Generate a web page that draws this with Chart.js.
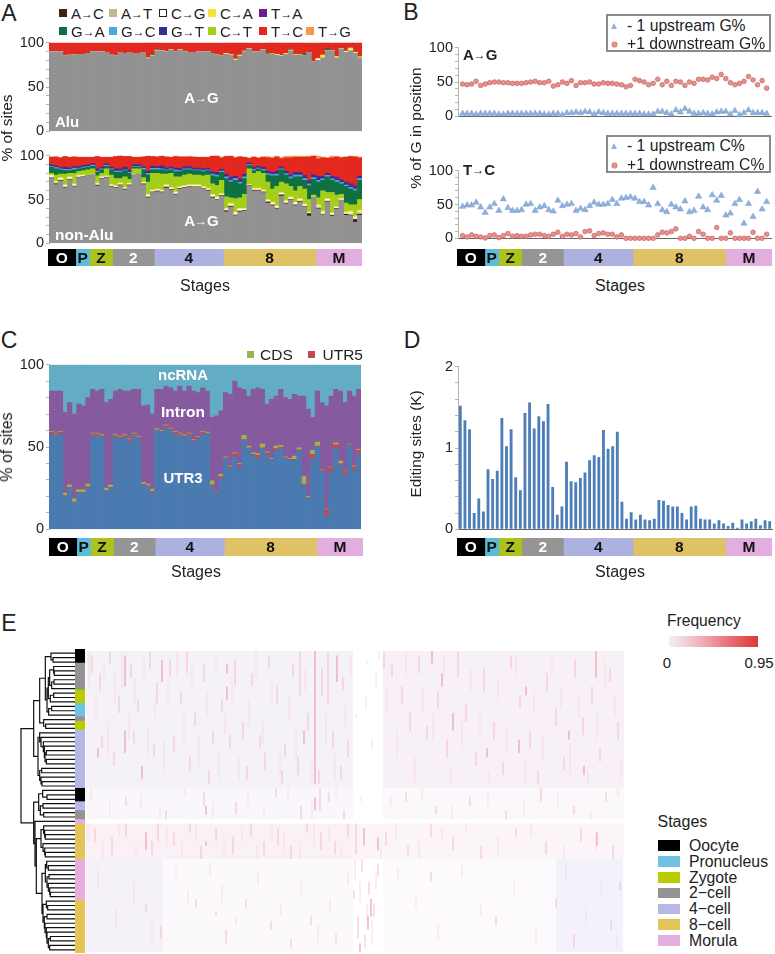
<!DOCTYPE html>
<html>
<head>
<meta charset="utf-8">
<script src="https://cdn.jsdelivr.net/npm/chart.js@4/dist/chart.umd.min.js"></script>
<style>
  html, body { margin: 0; padding: 0; background: #fff; }
  body { position: relative; width: 775px; height: 954px; overflow: hidden; font-family: "Liberation Sans", sans-serif; color: #222; }
  canvas { position: absolute; }
  .t { position: absolute; white-space: nowrap; transform: translate(-50%, -50%); }
  .l { position: absolute; white-space: nowrap; transform: translateY(-50%); }
  .a { font-size: 80%; font-weight: bold; vertical-align: 6%; }
  .s { position: absolute; }
</style>
</head>
<body>
<script>
// stages
const stageLetters = ['O', 'P', 'Z', '2', '4', '8', 'M']
const stageCounts = [6, 3, 5, 9, 15, 20, 10]
const stageColors = ['#000000', '#5bbcd8', '#adc21d', '#959595', '#adb1e0', '#dfc166', '#e2aee0']
const stageInk = ['#fff', '#111', '#111', '#fff', '#111', '#111', '#111']
const stageNames = ['Oocyte', 'Pronucleus', 'Zygote', '2\u2212cell', '4\u2212cell', '8\u2212cell', 'Morula']
const swatchColors = ['#000000', '#6fc3e0', '#b9cc00', '#939393', '#b8b8e6', '#e3c456', '#e6aee0']
const samples = stageCounts.flatMap((n, s) => Array.from({ length: n }, (_, i) => stageLetters[s] + (i + 1)))

// panel A, Alu
const aluAG = [90,90,90,85,87,86,87,87,88,90,90,90,89,87,85,89,88,89,88,88,89,82,85,91,91,90,92,90,92,90,89,89,90,90,90,88,86,85,87,86,80,85,90,93,90,90,92,87,87,86,85,87,91,86,86,85,89,78,80,83,91,91,83,93,89,91,88,83]
const aluTC = [10,10,10,15,13,14,13,13,12,10,10,10,11,13,15,11,12,11,12,12,11,18,15,9,9,10,8,10,8,10,11,11,10,10,10,12,14,15,13,14,20,15,10,7,10,10,8,13,13,14,15,13,9,14,14,15,11,22,20,17,9,9,17,7,11,9,12,17]
const aluCA = { 21: 1, 23: 0.5, 38: 1, 39: 0.5, 40: 1.5, 41: 1, 42: 0.5, 48: 0.5, 50: 0.5, 53: 0.5, 58: 1, 59: 3, 62: 1.5, 65: 2, 66: 1, 67: 1 }
const aluCT = { 22: 1, 23: 0.5, 47: 0.5, 49: 0.5, 52: 1, 54: 0.5, 60: 0.5, 64: 0.5, 66: 0.5 }
const aluGA = { 22: 0.5, 47: 0.5, 55: 2.5, 60: 1.5 }
const aluCG = { 49: 0.5, 51: 0.5, 58: 1.5, 64: 1, 65: 1 }

// panel A, non-Alu
const nonAG = [74,67,71,63,72,64,75,76,77,78,65,73,75,64,63,66,61,66,78,79,67,52,58,59,58,63,61,55,62,63,64,64,64,62,60,52,49,54,36,41,31,36,37,65,60,60,58,46,43,39,54,45,49,43,47,41,31,52,39,32,47,31,39,49,32,31,24,32]
const nonAC = [.5,1,.5,.5,.5,.5,.3,0,0,0,1,.5,.3,.5,.5,.5,.5,.5,0,0,.5,.5,.5,.5,.5,1,.5,.5,.5,.5,.5,.3,.3,.3,.5,.5,.5,.5,1,1,.5,.5,.5,.5,.5,.5,.5,1,.5,.5,1,.5,.5,.5,.5,.5,3,0,.5,.5,.5,1,.5,0,1,.5,3,1]
const nonAT = [1,1,1,1,1,1,.7,.5,.3,.3,1,1,.5,1,.5,.5,1,.5,.3,.3,1,1,.5,.5,.5,1,.5,1,.5,.5,.5,.7,.7,.7,.5,1,1,.5,1,1,1.5,1,.5,.5,.5,.5,.5,1,1,1,1,1,1,1,1,1,.5,0,2,1,1,.5,.5,.5,.5,2,1,2]
const nonCG = [1.5,1,1.5,1.5,1.5,1.5,1,.5,.2,.2,1,1,.7,1,1,1,.5,1,.2,.2,.5,1.5,1,1,1,1,1,1.5,1,1,1,1,1,1,1,1.5,1.5,1,1,1.5,1.5,1.5,1,.5,1,1,1,1,1.5,1.5,1,1.5,1.5,1.5,1.5,1.5,.5,.5,1,1.5,1.5,1.5,1,1,1,1.5,1.5,1]
const nonCA = [1,1,1,1,1,1,1,1,.5,.5,1,.5,.5,.5,1,1,1,1,.5,.5,1,1,1,1,1,1,1,1,1,1,1,1,1,1,1,1,1,1,1,1.5,1.5,1,1,.5,1,1,1,1,1,1,1,1,1,1,1,1,1,.5,1.5,2,1,1,1,.5,1.5,2,1.5,2]
const nonCT = [2,7,4,12,4,12,4,5,6,6,8,4,8,11,8,5,12,4,6,5,5,14,19,18,18,12,16,17,11,12,12,11,11,12,15,12,13,15,13,6,15,12,16,18,17,19,19,20,15,22,12,19,12,13,14,17,14,2,8,23,7,23,13,5,10,7,13,12]
const nonGA = [7,7,5,4,3,4,3,3,3,3,4,4,3,6,7,7,7,7,2,2,9,8,4,4,5,4,4,6,6,6,5,5,5,5,5,9,10,9,21,18,21,16,18,4,3,3,3,8,15,12,14,10,9,16,11,10,16,18,18,12,18,14,15,12,19,18,16,22]
const nonGC = [1,1.5,1,1.5,1.5,1.5,1,1,1,1,1.5,1,1,1,1.5,1.5,1,1,1,1,1.5,2,1.5,1.5,1,1,1,1.5,1,1,1,1,1,1,1,2,2,1.5,2,2,2,2,2,1,1.5,1,1.5,1.5,1.5,2,1,1.5,2,2,2,2,2,2,2,1.5,1.5,1.5,2,1.5,1.5,2,2,2]
const nonGT = [1,1,1,1.5,1,1,1,1,1,1,1.5,1,1,1,1.5,1.5,2,1.5,1,1,1,1,1.5,1,2,1.5,1,1.5,1.5,1.5,1.5,1,1,1,1,1.5,2,1,2,2,1.5,2,2,1,1.5,1,1.5,2,1.5,2,1.5,2,1.5,2,2,2,2,2,3,2,1.5,2,2,1.5,2,2,2,1.5]
const nonTA = [1,1,.5,1,.5,1,1,1,1,1,1,1,1,1,1,1,1,1.5,1,1,1,1.5,1,1,1.5,1,1,1,1,1,1,1,1,1,1,1,1,1,1,1.5,1,1.5,1,1,1,1,1,1,1,1.5,1,1,1,1,1,1.5,1.5,1.5,1.5,1,1,1,1.5,1.5,1.5,2,1.5,1]
const nonTC = [8,10,11,12,12,11,10,9,8,7,14,11,7,11,14,15,12,15,8,8,11,17,11,11,11,12,11,13,13,11,11,12,12,13,12,18,19,13,20,24,21,25,19,5,11,9,11,15,16,16,9,15,19,17,17,21,27,22,20,21,17,21,23,25,28,31,33,21]
const nonTG = [1,.5,.5,.5,.5,.5,.5,.5,.5,.5,.5,.5,.5,.5,.5,.5,.5,.5,.5,.5,.5,.5,.5,.5,.5,.5,.5,1,.5,.5,1,1,.5,.5,.5,.5,.5,1,1,1,1,1,.5,.5,1,1,1,1.5,1.5,1.5,1.5,2,2,2,2,1,1.5,6,5,1,1,3,1,1,1,1,1,1]

// panel B
const upG = [4,4,4,3,4,4,4,4,3,3,4,4,4,4,4,4,4,4,3,3,4,4,2,5,5,6,5,7,6,3,6,5,4,4,4,4,4,4,4,4,3,3,3,7,7,5,3,9,6,11,7,4,4,5,4,3,6,7,7,3,8,2,5,9,5,5,5,4]
const downG = [47,46,47,51,45,47,49,50,50,49,49,48,48,48,49,50,51,49,49,51,44,46,50,48,52,45,49,49,50,47,47,49,48,48,47,46,43,45,54,52,50,46,48,54,46,51,45,51,50,45,50,48,54,54,53,57,55,61,55,49,46,48,51,58,53,46,52,41]
const upC = [47,49,49,53,46,38,46,51,41,58,45,41,41,42,50,51,41,46,48,42,40,56,48,50,51,41,44,42,48,53,50,50,51,57,51,59,60,61,59,54,54,49,75,51,42,39,50,46,43,55,39,41,62,46,42,64,56,63,34,37,51,57,22,51,32,69,43,54]
const downC = [4,2,5,3,2,0.5,4,5,1,4,7,3,4,3,3,5,6,6,4,3,6,9,3,6,5,7,2,10,11,4,7,8,6,6,2,5,0,0,0,0,0,0,0,5,9,8,10,14,0,0,3,0,10,6,0,0,16,0,0,8,0,0,0,0,9,0,0,6]

// panel C
const utr3 = [58,57,58,20,25,16,22,22,25,57,57,56,23,25,56,55,56,53,57,55,27,26,22,60,59,62,60,58,57,56,57,53,55,58,58,26,22,31,43,37,44,38,54,49,45,43,49,45,42,48,49,43,42,42,48,27,19,43,50,35,8,35,49,39,33,51,36,46]
const utr5 = [1,1,1,.5,.5,.5,.5,.5,1,1,1,1,.5,.5,1,1,1,1.5,1,1,.5,.5,1,.5,.5,1,1,1,1,1,1,1,1,1,.5,1,.3,1,.5,1,2,1.5,.5,.5,.5,2,.5,1.5,.5,1,1,.5,.5,.5,.5,.5,.3,2.5,.5,1,4,2.5,2.5,1,2.5,.5,2,2]
const cds = [.5,.5,.5,1.5,1.5,2,1.5,1.5,1.5,.5,.5,.5,1.5,1.5,.5,.5,.5,.5,.5,.5,1,1,1.5,.5,.5,.5,.5,.5,.5,.5,.5,.5,.5,.5,.5,2.5,.3,1.5,.5,.5,.5,.5,2.5,1,1,1,2.5,.5,.5,1.5,1,.5,.5,2,1,4.5,.7,2.5,2.5,.3,.3,.3,1,1.5,.3,.3,.5,.5]
const intron = [24.5,25.5,24.5,49,50,51.5,52,51,52.5,26.5,25.5,27.5,52,52,26.5,28.5,26.5,29,26.5,28.5,46.5,48,45.5,24,25,23.5,24.5,24.5,28.5,26.5,28.5,29.5,26.5,26.5,25,38.5,46.4,38.5,39,43.5,43.5,46,28,30.5,38.5,40,33,29,36,30.5,34,36,36,37.5,31.5,49,53,20,31,40.7,62.7,43.2,32.5,42.5,41.2,32.2,42.5,36.5]
const ncrna = [16,16,16,29,23,30,24,25,20,15,16,15,23,21,16,15,16,16,15,15,25,24.5,30,15,15,13,14,16,13,16,13,16,17,14,16,32,31,28,17,18,10,14,15,19,15,14,15,24,21,19,15,20,21,18,19,19,27,32,16,23,25,19,15,16,23,16,19,15]

// panel D
const editingSites = [1.52,1.34,1.23,.2,.38,.22,.74,.62,.72,1.37,1.02,1.23,.64,.48,1.43,1.56,1.24,1.39,1.33,1.54,.52,.18,.28,.83,.59,.58,.63,.7,.85,.91,.89,1.22,.99,1.02,1.2,.34,.13,.21,.12,.18,.12,.11,.13,.36,.35,.3,.28,.28,.2,.12,.28,.29,.13,.12,.12,.07,.11,.07,.04,.08,.02,.12,.07,.1,.13,.05,.11,.1]

// panel E, rows and sample tree (node = [height, left, right], 0 = leaf)
const rowRunLengths = [3, 6, 3, 3, 1, 2, 13, 3, 2, 2, 1, 8, 9, 12]
const rowRunStages = [0, 3, 2, 1, 3, 2, 4, 0, 4, 3, 6, 5, 6, 5]
const dendroTree = [162,
  [124,
    [106,
      [89, [72, 0, [66, 0, 0]],
        [84,
          [80, [76, [64, 0, [62, 0, 0]], [70, [63, 0, 0], 0]], [74, [64, 0, 0], 0]],
          [79, [70, 0, 0], 0]]],
      [94, 0, [88, 0, 0]]],
    [111,
      [106, 0, [102, 0, [95, 0, [92, 0, [90, [86, 0, 0], [86, 0, 0]]]]]],
      [106, [100, 0, 0], [102, 0, [99, 0, 0]]]]],
  [124,
    [109, [97, 0, [84, 0, 0]], [104, [96, 0, 0], [94, 0, 0]]],
    [120, 0,
      [116,
        [102, [94, 0, [91, 0, [89, 0, 0]]], [96, 0, [91, 0, [89, 0, 0]]]],
        [99,
          [89, [85, 0, [80, 0, 0]], [84, [78, 0, 0], [80, 0, [76, 0, [74, 0, 0]]]]],
          [96, [86, 0, [82, 0, 0]], [92, [84, 0, 0], [90, 0, [86, 0, [84, 0, [80, [74, 0, 0], [76, 0, 0]]]]]]]]]]]]

// panel E, frequency cells: [first column, last column, first row, last row, colour]
const heatBlocks = [
  [0, 267, 0, 31, '#f4f1f8'], [0, 267, 31, 38, '#f9f7fb'], [0, 267, 39, 47, '#faf1f6'],
  [0, 77, 47, 68, '#f4f1f9'], [77, 267, 47, 68, '#fbf9fc'],
  [297, 538, 0, 31, '#f7f0f6'], [297, 538, 31, 38, '#fbf8fb'], [267, 538, 39, 47, '#fbf4f8'],
  [470, 537, 47, 68, '#f3f1f9'], [297, 470, 47, 68, '#fcfafc']
]
// streaks: [column, first row, last row]
const heatLight = [
  [3,0,8],[10,10,16],[18,2,7],[22,16,24],[29,5,12],[36,0,9],[43,14,20],[49,6,12],[58,1,7],[62,17,24],[69,11,15],[78,20,27],[82,6,13],[91,0,6],[98,14,22],[106,3,9],[113,19,26],[121,9,15],[130,1,5],[133,23,29],[139,14,19],[146,6,12],[153,24,29],[163,11,17],[170,0,6],[177,16,21],[186,6,12],[194,22,28],[203,10,16],[210,18,24],[219,4,9],[226,25,30],[240,14,21],[249,23,29],[259,12,17],[265,1,6],
  [5,31,34],[24,34,37],[55,32,36],[74,35,38],[99,31,33],[127,34,38],[162,32,35],[178,35,38],[202,31,34],[226,34,38],[250,31,33],
  [2,39,43],[17,43,47],[33,39,42],[50,44,47],[81,40,44],[96,43,47],[110,39,43],[138,42,47],[156,40,43],[171,44,47],[186,39,43],[198,41,46],[214,43,47],[228,39,44],[243,40,43],[255,44,47],
  [12,49,54],[30,58,63],[48,52,57],[66,61,66],[90,49,51],[102,54,57],[124,48,51],[136,53,57],[150,60,62],[172,50,53],[195,57,60],[215,52,55],[232,62,66],[244,56,59],[262,50,53],
  [270,14,15],[281,2,3],[290,5,8],[280,10,13],[293,0,2],[286,20,22],[275,33,34],
  [301,8,14],[311,18,24],[320,0,6],[329,24,30],[337,8,14],[347,14,20],[358,1,6],[365,26,30],[376,16,22],[385,4,9],[394,13,19],[403,27,30],[412,6,11],[421,17,23],[430,1,6],[439,24,30],[448,9,14],[457,19,25],[466,1,5],[475,8,13],[484,21,28],[493,10,15],[502,26,30],[511,14,20],[519,2,8],[529,10,15],[535,24,29],
  [305,33,35],[336,31,34],[366,35,38],[402,32,35],[438,34,37],[472,32,35],[505,36,38],[532,31,33],
  [310,39,43],[333,43,47],[356,40,43],[380,39,41],[412,42,46],[445,39,42],[478,44,47],[510,41,45],
  [312,49,52],[330,55,58],[352,62,65],[376,48,51],[395,57,60],[428,52,55],[450,63,66],[480,48,52],[500,58,62],[515,52,55],[531,64,67],
  [269,47,52],[274,52,57],[281,57,61],[286,61,66],[290,50,54],[295,44,47]
]
const heatMid = [
  [6,1,5],[14,5,9],[24,0,3],[33,10,14],[45,3,6],[52,11,14],[64,0,4],[71,7,12],[84,2,6],[95,9,12],[101,0,5],[109,14,17],[118,3,7],[127,18,21],[136,11,14],[149,2,8],[157,16,20],[166,5,8],[174,19,22],[183,1,4],[191,8,12],[199,21,24],[207,3,6],[214,0,10],[222,14,18],[236,4,10],[242,0,12],[247,18,22],[257,6,9],[262,20,24],[16,19,22],[28,23,26],[48,18,21],[68,21,24],[88,19,23],[104,24,27],[123,27,30],[144,19,22],[161,26,29],[179,23,27],[196,27,30],[212,24,28],[233,27,30],[255,26,29],
  [40,33,35],[80,36,38],[118,32,35],[150,34,37],[190,31,33],[215,35,38],[234,31,36],[243,32,34],[258,36,38],
  [9,40,43],[26,42,46],[40,39,42],[66,43,46],[72,39,43],[88,41,44],[104,39,41],[115,44,47],[130,40,43],[147,42,46],[165,39,42],[178,43,46],[192,40,44],[205,44,47],[221,39,41],[235,41,45],[249,43,46],[262,39,42],
  [60,57,59],[75,62,65],[110,56,58],[130,59,60],[140,63,66],[160,56,58],[185,61,63],[205,65,67],[225,60,62],[250,64,66],
  [298,0,4],[306,3,6],[316,8,12],[324,14,18],[333,1,5],[341,17,20],[352,9,13],[361,20,24],[372,0,6],[380,12,16],[390,23,26],[398,4,9],[408,16,20],[417,25,28],[425,1,4],[434,10,13],[444,18,22],[452,27,30],[461,5,9],[470,13,17],[478,24,27],[489,2,6],[497,15,19],[506,8,12],[514,22,25],[524,4,7],[532,16,20],
  [320,32,34],[350,35,37],[384,33,35],[420,36,38],[455,31,34],[488,35,37],[520,32,34],
  [300,41,44],[322,44,46],[345,39,42],[367,42,45],[395,44,47],[430,40,42],[460,43,46],[495,40,43],[527,44,47],
  [345,50,52],[410,60,62],[470,56,58],[488,64,67],[525,61,63],[534,52,54],
  [270,39,46],[276,47,50],[283,52,55],[288,57,60],[272,60,65],[279,64,67],[292,48,51],[268,54,56]
]
const heatStrong = [
  [229,0,26],[251,1,7],[141,3,5],[141,8,11],[39,1,8],[39,18,23],[76,2,7],[218,18,21],[12,22,24],[56,26,29],
  [278,40,44],[285,56,60],[282,60,63],[274,66,68],[292,42,45],[346,0,3],[356,5,8],[367,14,18],[440,8,10],[510,0,6],
  [483,18,20],[401,22,24],[433,20,23],[498,26,28],[120,43,44],[60,41,45],[229,26,30],[229,33,36],[120,35,37],[511,41,44]
]
const freqStops = ['#f2f0f8', '#f0b6c0', '#e8707a', '#dc3a34']

const stack100 = (max, step) => ({
  min: 0,
  max,
  stacked: true,
  afterFit: (s) => { s.width = 48 },
  border: { color: '#b5b5b5' },
  grid: { drawOnChartArea: false, drawTicks: true, tickLength: 3, color: '#b5b5b5' },
  ticks: {
    stepSize: step,
    autoSkip: false,
    maxRotation: 0,
    padding: 2,
    color: '#222',
    font: { size: 14.5 },
    callback: (v) => (Number.isInteger(+(+v / (max === 100 ? 50 : 1)).toFixed(3)) ? v : '')
  }
})

const baseOptions = {
  responsive: false,
  animation: false,
  devicePixelRatio: 1,
  events: [],
  plugins: { legend: { display: false }, tooltip: { enabled: false } }
}

const addCanvas = (left, top, w, h) => {
  const c = document.createElement('canvas')
  c.width = w
  c.height = h
  c.style.left = left + 'px'
  c.style.top = top + 'px'
  document.body.appendChild(c)
  return c
}

// canvas sized so that the plot area lands on left/top/width/height
const plotChart = (left, top, width, height, config) => {
  const c = addCanvas(left - 48, top - 10, width + 52, height + 20)
  config.options.layout = { padding: { top: 10, bottom: 10, right: 4, left: 0 } }
  return new Chart(c, config)
}

const fullChart = (left, top, width, height, config) => {
  const c = addCanvas(left, top, width, height)
  config.options.layout = { padding: 0 }
  return new Chart(c, config)
}

const stackChart = (left, top, width, height, series, max, step) => plotChart(left, top, width, height, {
  type: 'bar',
  data: {
    labels: samples,
    datasets: series.map(([data, color]) => ({
      data,
      backgroundColor: color,
      barPercentage: 1,
      categoryPercentage: 1,
      borderWidth: 0
    }))
  },
  options: {
    ...baseOptions,
    scales: { x: { display: false, stacked: true }, y: stack100(max, step) }
  }
})

const sparse = (o) => samples.map((_, i) => o[i] || 0)

const stageLetterPlugin = {
  id: 'stageLetterPlugin',
  afterDatasetsDraw(chart) {
    const { ctx, scales: { x }, chartArea } = chart
    let at = 0
    ctx.save()
    ctx.font = 'bold 15.5px "Liberation Sans"'
    ctx.textAlign = 'center'
    ctx.textBaseline = 'middle'
    stageCounts.forEach((n, i) => {
      ctx.fillStyle = stageInk[i]
      ctx.fillText(stageLetters[i], x.getPixelForValue(at + n / 2), (chartArea.top + chartArea.bottom) / 2 + 1)
      at += n
    })
    ctx.restore()
  }
}

const stageStrip = (left, top, width, height) => fullChart(left, top, width, height, {
  type: 'bar',
  data: {
    labels: ['stages'],
    datasets: stageCounts.map((n, i) => ({
      data: [n],
      backgroundColor: stageColors[i],
      barPercentage: 1,
      categoryPercentage: 1,
      borderWidth: 0
    }))
  },
  options: {
    ...baseOptions,
    indexAxis: 'y',
    scales: {
      x: { display: false, stacked: true, min: 0, max: 68 },
      y: { display: false, stacked: true }
    }
  },
  plugins: [stageLetterPlugin]
})

const xy = (arr) => arr.map((y, i) => ({ x: i, y }))

const posChart = (top, height, up, down) => plotChart(457.5, top, 314, height, {
  type: 'scatter',
  data: {
    datasets: [
      { data: xy(up), pointStyle: 'triangle', pointRadius: 3.6, backgroundColor: '#8fb0dc', borderColor: '#7d9fcc', borderWidth: 0.5, clip: false },
      { data: xy(down), pointStyle: 'circle', pointRadius: 2.3, backgroundColor: '#e8908e', borderColor: '#c96a68', borderWidth: 0.8, clip: false }
    ]
  },
  options: {
    ...baseOptions,
    scales: {
      x: {
        type: 'linear',
        min: -1,
        max: 68,
        afterFit: (s) => { s.height = 0 },
        ticks: { display: false },
        grid: { display: false },
        border: { color: '#666' }
      },
      y: { ...stack100(100, 10), stacked: false }
    }
  }
})

// A
stackChart(49, 42, 313, 90, [
  [aluAG, '#929292'], [sparse(aluCG), '#ffffff'], [sparse(aluCA), '#f7e23a'], [sparse(aluCT), '#a3cf1a'],
  [sparse(aluGA), '#0f7041'], [aluTC, '#e2281f']
], 100, 10)
stackChart(49, 154.5, 313, 89, [
  [nonAG, '#929292'], [nonAC, '#3c2415'], [nonAT, '#c4b595'], [nonCG, '#ffffff'], [nonCA, '#f7e23a'],
  [nonCT, '#a3cf1a'], [nonGA, '#0f7041'], [nonGC, '#4aa8dc'], [nonGT, '#2e3192'], [nonTA, '#6b1d90'],
  [nonTC, '#e2281f'], [nonTG, '#f7974c']
], 100, 10)
stageStrip(48, 249, 314, 17)

// B
posChart(47, 70.5, upG, downG)
posChart(170, 69.5, upC, downC)
stageStrip(457, 249, 315, 17)

// C
stackChart(49, 364, 312, 166, [
  [utr3, '#4a7ab0'], [utr5, '#c9474a'], [cds, '#9ab450'], [intron, '#865a9e'], [ncrna, '#63adc4']
], 100, 10)
stageStrip(49, 538, 314, 18)

// D
plotChart(457.5, 366, 314, 164, {
  type: 'bar',
  data: {
    labels: samples,
    datasets: [{ data: editingSites, backgroundColor: '#4d7eb8', barPercentage: 0.62, categoryPercentage: 1, borderWidth: 0 }]
  },
  options: {
    ...baseOptions,
    scales: {
      x: {
        afterFit: (s) => { s.height = 0 },
        ticks: { display: false },
        grid: { display: false },
        border: { color: '#666' }
      },
      y: { ...stack100(2, 0.2), stacked: false }
    }
  }
})
stageStrip(457, 538, 315, 18)

// E, dendrogram
const dendroPoints = []
let nextLeaf = 0
const walkTree = (node) => {
  if (!node) return { h: 0, y: nextLeaf++ + 0.5 }
  const a = walkTree(node[1])
  const b = walkTree(node[2])
  dendroPoints.push(
    { x: a.h, y: a.y }, { x: node[0], y: a.y }, { x: node[0], y: b.y }, { x: b.h, y: b.y }, { x: NaN, y: NaN }
  )
  return { h: node[0], y: (a.y + b.y) / 2 }
}
walkTree(dendroTree)

const rowScale = { display: false, type: 'linear', min: 0, max: 68, reverse: true }

fullChart(20, 651, 55, 301, {
  type: 'scatter',
  data: {
    datasets: [{
      data: dendroPoints,
      showLine: true,
      stepped: true,
      pointRadius: 0,
      borderColor: '#111',
      borderWidth: 1.2,
      clip: false
    }]
  },
  options: {
    ...baseOptions,
    scales: { x: { display: false, type: 'linear', min: 0, max: 165, reverse: true }, y: rowScale }
  }
})

// E, stage colours of the rows
fullChart(75, 649, 10, 304, {
  type: 'bar',
  data: {
    labels: ['rows'],
    datasets: rowRunLengths.map((n, i) => ({
      data: [n],
      backgroundColor: swatchColors[rowRunStages[i]],
      barPercentage: 1,
      categoryPercentage: 1,
      borderWidth: 0
    }))
  },
  options: {
    ...baseOptions,
    scales: {
      x: { display: false, stacked: true },
      y: { display: false, stacked: true, min: 0, max: 68, reverse: true }
    }
  }
})

// E, heatmap
const streakSet = (list, color) => ({
  data: list.flatMap(([c, r0, r1]) => [{ x: c, y: r0 }, { x: c, y: r1 }, { x: NaN, y: NaN }]),
  showLine: true,
  stepped: true,
  pointRadius: 0,
  borderColor: color,
  borderWidth: 1
})

// first dataset ends up on top, so the streaks go before the blocks
fullChart(86, 651, 538, 301, {
  type: 'scatter',
  data: {
    datasets: [
      streakSet(heatStrong, '#ef8d9b'),
      streakSet(heatMid, '#f7bcc6'),
      streakSet(heatLight, '#fbdbe1'),
      ...heatBlocks.map(([c0, c1, r0, r1, color]) => ({
        data: [{ x: c0, y: r1 }, { x: c1, y: r1 }],
        showLine: true,
        pointRadius: 0,
        borderWidth: 0,
        backgroundColor: color,
        fill: { value: r0 }
      }))
    ]
  },
  options: {
    ...baseOptions,
    scales: { x: { display: false, type: 'linear', min: 0, max: 538 }, y: rowScale }
  }
})

// text and legends
const arrow = (s) => s.replace('>', '<span class="a">\u2192</span>')

const text = (html, x, y, size, extra = '') => {
  const d = document.createElement('div')
  d.className = 't'
  d.innerHTML = html
  d.style.cssText = `left:${x}px;top:${y}px;font-size:${size}px;${extra}`
  document.body.appendChild(d)
}

const leftText = (html, x, y, size, extra = '') => {
  const d = document.createElement('div')
  d.className = 'l'
  d.innerHTML = html
  d.style.cssText = `left:${x}px;top:${y}px;font-size:${size}px;${extra}`
  document.body.appendChild(d)
}

const swatch = (x, y, w, h, color, extra = '') => {
  const d = document.createElement('div')
  d.className = 's'
  d.style.cssText = `left:${x}px;top:${y}px;width:${w}px;height:${h}px;background:${color};${extra}`
  document.body.appendChild(d)
}

const turned = 'transform:translate(-50%,-50%) rotate(-90deg);'

text('A', 9, 13, 23)
text('B', 411, 12, 23)
text('C', 9, 340, 23)
text('D', 412, 340, 23)
text('E', 9, 623, 23)

const mutationLegend = [
  ['A>C', 59, 13, '#3c2415'], ['A>T', 109, 13, '#c4b595'], ['C>G', 159, 13, '#ffffff'], ['C>A', 208, 13, '#f7e23a'], ['T>A', 259, 13, '#6b1d90'],
  ['G>A', 59, 31, '#0f7041'], ['G>C', 109, 31, '#4aa8dc'], ['G>T', 159, 31, '#2e3192'], ['C>T', 208, 31, '#a3cf1a'], ['T>C', 259, 31, '#e2281f'], ['T>G', 306, 31, '#f7974c']
]
mutationLegend.forEach(([name, x, y, color]) => {
  swatch(x, y - 4, 8, 8, color, color === '#ffffff' ? 'box-sizing:border-box;border:1px solid #222;' : '')
  leftText(arrow(name), x + 12, y, 15)
})

const white = 'color:#fff;font-weight:bold;'
text(arrow('A>G'), 201.5, 97, 15, white)
leftText('Alu', 55, 121, 15, white)
text(arrow('A>G'), 201.5, 220, 15, white)
leftText('non-Alu', 55, 235, 15.5, white)
text('% of sites', 7, 128, 15.5, turned)
text('Stages', 205, 286, 16)

swatch(605.5, 14, 165.5, 37.5, '#fff', 'box-sizing:border-box;border:2px solid #8a8a8a;')
swatch(605.5, 135, 165.5, 38, '#fff', 'box-sizing:border-box;border:2px solid #8a8a8a;')
const markerTri = (x, y) => swatch(x - 3, y - 3, 6, 6, '#8fb0dc', 'clip-path:polygon(50% 0,100% 100%,0 100%);')
const markerDot = (x, y) => swatch(x - 2.5, y - 2.5, 5, 5, '#e8908e', 'border-radius:50%;box-shadow:0 0 0 0.5px #c96a68;')
markerTri(614, 26)
leftText('- 1 upstream G%', 627, 26, 15.7)
markerDot(614, 44)
leftText('+1 downstream G%', 627, 44, 15.7)
markerTri(614, 146)
leftText('- 1 upstream C%', 627, 146, 15.7)
markerDot(614, 165)
leftText('+1 downstream C%', 627, 165, 15.7)
leftText(arrow('A>G'), 463, 54, 15, 'font-weight:bold;')
leftText(arrow('T>C'), 463, 169, 15, 'font-weight:bold;')
text('% of G in position', 416, 128, 15.5, turned)
text('Stages', 620, 286, 16)

swatch(247, 351, 7, 7, '#9ab450')
leftText('CDS', 260, 355, 15.5)
swatch(308, 351, 7, 7, '#c9474a')
leftText('UTR5', 322.5, 355, 15.5)
text('ncRNA', 183, 374, 15, white)
text('Intron', 183, 412, 15.5, white)
text('UTR3', 183, 477, 15, white)
text('% of sites', 7, 446.5, 16, turned)
text('Stages', 196, 572, 16)

text('Editing sites (K)', 416, 444, 15.3, turned)
text('Stages', 620, 572, 16)

leftText('Frequency', 667, 621, 15.6)
swatch(669, 636, 89, 11, `linear-gradient(90deg,${freqStops.join(',')})`)
text('0', 667, 662, 15)
text('0.95', 759, 662, 15)

leftText('Stages', 657.5, 822, 16)
stageNames.forEach((name, i) => {
  swatch(657.5, 840.3 + i * 15.8, 22.5, 10.7, swatchColors[i])
  leftText(name, 689, 846 + i * 15.8, 15.8)
})
</script>
</body>
</html>
